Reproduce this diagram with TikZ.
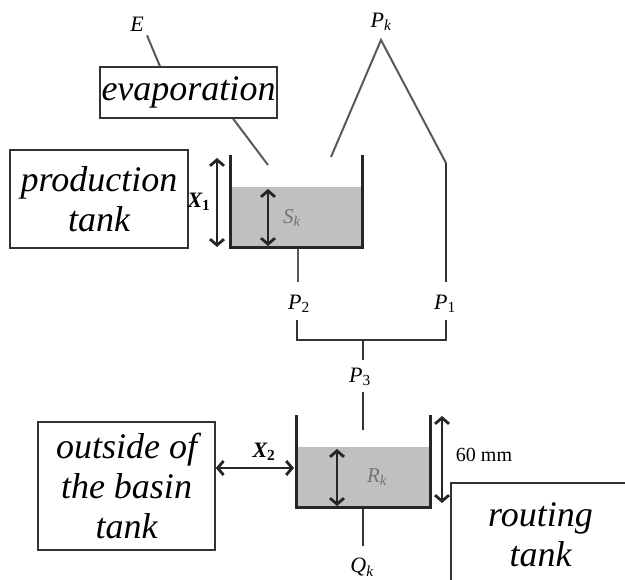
\documentclass[tikz,border=0pt]{standalone}
\usepackage{fontspec}
\setmainfont{Liberation Serif}
\usetikzlibrary{arrows.meta,calc}
\definecolor{water}{HTML}{C0C0C0}
\begin{document}
\begin{tikzpicture}[x=1pt,y=-1pt,
 boxs/.style={draw=black!80,line width=1.5pt,align=center,font=\itshape\fontsize{36}{40}\selectfont,inner sep=0pt},
 wall/.style={draw=black!85,line width=3pt},
 conn/.style={draw=black!65,line width=2pt},
 pipe/.style={draw=black!80,line width=2.5pt},
 dbl/.style={draw=black!85,line width=2.8pt,{Straight Barb[length=6pt,width=14pt]}-{Straight Barb[length=6pt,width=14pt]}},
 lab/.style={font=\itshape\fontsize{22}{24}\selectfont,inner sep=0pt},
 glab/.style={font=\itshape\fontsize{21}{23}\selectfont,inner sep=0pt,text=black!55}]
\useasboundingbox (0,0) rectangle (625,580);
\clip (0,0) rectangle (625,580);
% boxes
\node[boxs,minimum width=177pt,minimum height=51pt] (evap) at (188.5,92.5) {evaporation};
\node[boxs,minimum width=178pt,minimum height=98pt] (prod) at (99,199) {production\\tank};
\node[boxs,minimum width=177pt,minimum height=128pt] (outs) at (126.5,486) {outside of\\the basin\\tank};
\node[boxs,minimum width=179pt,minimum height=104pt] (rout) at (540.5,535) {routing\\tank};
% production vessel
\fill[water] (231,187) rectangle (361,248);
\draw[wall] (230,155) -- (230,248) -- (362,248) -- (362,155);
% routing vessel
\fill[water] (297,447) rectangle (429,508);
\draw[wall] (296,415) -- (296,508) -- (430,508) -- (430,415);
% labels
\node[lab] (E) at (137,24) {E};
\node[lab] (Pk) at (381,22) {P\textsubscript{\textit{k}}};
\node[lab] (P2) at (299,304) {P\textsubscript{\upshape 2}};
\node[lab] (P1) at (445,304) {P\textsubscript{\upshape 1}};
\node[lab] (P3) at (360,377) {P\textsubscript{\upshape 3}};
\node[lab] (Qk) at (362,567) {Q\textsubscript{\textit{k}}};
\node[lab,font=\bfseries\itshape\fontsize{22}{24}\selectfont] (X1) at (199,202) {X\textsubscript{\upshape 1}};
\node[lab,font=\bfseries\itshape\fontsize{22}{24}\selectfont] (X2) at (264,452) {X\textsubscript{\upshape 2}};
\node[glab] (Sk) at (292,218) {S\textsubscript{\textit{k}}};
\node[glab] (Rk) at (377,477) {R\textsubscript{\textit{k}}};
\node[inner sep=0pt,font=\fontsize{20}{22}\selectfont] (mm) at (484,455) {60 mm};
% evaporation connectors
\draw[conn] ($(E.south)+(10,4)$) -- ($(evap.north west)!0.34!(evap.north east)$);
\coordinate (evin) at (268,165);
\draw[conn] ($(evap.south west)!0.75!(evap.south east)$) -- (evin);
% rainfall split
\coordinate (pktop) at (381,40);
\coordinate (pkleft) at (331,157);
\coordinate (pkright) at (446,163);
\coordinate (p1end) at (446,282);
\draw[conn] (pkleft) -- (pktop) -- (pkright);
\draw[pipe] (pkright) -- (p1end);
\coordinate (p2top) at (298,249);
\coordinate (p2end) at (298,282);
\draw[conn] (p2top) -- (p2end);
% merge
\coordinate (m1) at (297,320);
\coordinate (m2) at (297,340);
\coordinate (m3) at (446,340);
\coordinate (m4) at (446,320);
\coordinate (m5) at (363,340);
\coordinate (m6) at (363,360);
\draw[pipe] (m1) -- (m2) -- (m3) -- (m4);
\draw[pipe] (m5) -- (m6);
\coordinate (p3a) at (363,392);
\coordinate (p3b) at (363,430);
\draw[pipe] (p3a) -- (p3b);
\coordinate (qa) at (363,509);
\coordinate (qb) at (363,546);
\draw[pipe] (qa) -- (qb);
% arrows
\coordinate (x1a) at (217,158);
\coordinate (x1b) at (217,247);
\draw[dbl] (x1a) -- (x1b);
\coordinate (ska) at (268,189);
\coordinate (skb) at (268,246);
\draw[dbl] (ska) -- (skb);
\coordinate (rka) at (337,449);
\coordinate (rkb) at (337,506);
\draw[dbl] (rka) -- (rkb);
\coordinate (mma) at (442,416);
\coordinate (mmb) at (442,503);
\draw[dbl] (mma) -- (mmb);
\coordinate (x2b) at (294,468);
\draw[dbl] (outs.east |- x2b) -- (x2b);
\end{tikzpicture}
\end{document}
